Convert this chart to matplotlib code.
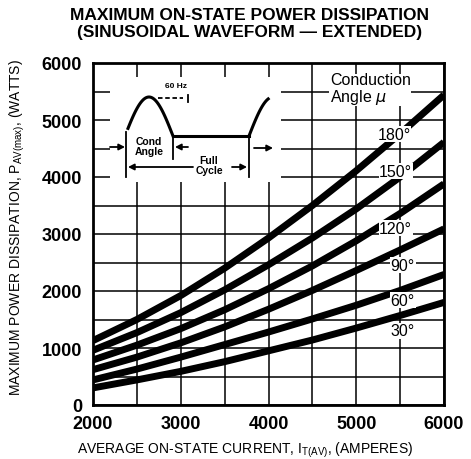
import numpy as np
import matplotlib
matplotlib.use("Agg")
import matplotlib.pyplot as plt
from matplotlib.patches import Rectangle

plt.rcParams['font.family'] = ['Liberation Sans', 'DejaVu Sans']
plt.rcParams['mathtext.default'] = 'regular'

# ---- data ----
current = [2000, 2500, 3000, 3500, 4000, 4500, 5000, 5500, 6000]
p180 = [1130, 1500, 1920, 2400, 2930, 3500, 4110, 4760, 5440]
p150 = [960, 1270, 1620, 2020, 2460, 2930, 3440, 4000, 4610]
p120 = [790, 1050, 1340, 1670, 2040, 2440, 2880, 3360, 3880]
p90 = [620, 840, 1090, 1370, 1680, 2010, 2360, 2720, 3090]
p60 = [440, 630, 840, 1060, 1280, 1510, 1750, 2010, 2290]
p30 = [300, 440, 590, 760, 950, 1140, 1350, 1570, 1800]
series = [p180, p150, p120, p90, p60, p30]
angle_labels = ["180°", "150°", "120°", "90°", "60°", "30°"]
label_x = [5430, 5450, 5450, 5530, 5530, 5530]
label_y = [4750, 4100, 3100, 2450, 1840, 1300]
xticks = [2000, 3000, 4000, 5000, 6000]
yticks = [0, 1000, 2000, 3000, 4000, 5000, 6000]

W, H = 471, 460
fig = plt.figure(figsize=(W / 100, H / 100), dpi=100)
L, R, T, B = 93, 444, 64, 406
ax = fig.add_axes([L / W, (H - B) / H, (R - L) / W, (B - T) / H])

ax.set_xlim(2000, 6000)
ax.set_ylim(0, 6000)
ax.set_xticks(xticks)
ax.set_yticks(yticks)
ax.set_xticks(np.arange(2000, 6001, 500), minor=True)
ax.set_yticks(np.arange(0, 6001, 500), minor=True)
ax.grid(True, which='both', color='black', linewidth=1.1, zorder=1)
ax.set_axisbelow(True)
ax.tick_params(which='both', length=0)
ax.tick_params(axis='y', pad=8, labelsize=13)
ax.tick_params(axis='x', pad=7, labelsize=13)
for lab in ax.get_xticklabels() + ax.get_yticklabels():
    lab.set_fontweight('bold')
for s in ax.spines.values():
    s.set_linewidth(2.0)
    s.set_zorder(5)

for vals in series:
    ax.plot(current, vals, color='black', linewidth=5, solid_capstyle='butt', zorder=3)

for lx, ly, t in zip(label_x, label_y, angle_labels):
    ax.text(lx, ly, t, fontsize=11.5, ha='center', va='center', zorder=4,
            bbox=dict(facecolor='white', edgecolor='none', pad=0.5))

ax.text(4700, 5545, "Conduction\nAngle $\\mathit{\\mu}$", fontsize=11.5, ha='left',
        va='center', linespacing=0.95, zorder=4,
        bbox=dict(facecolor='white', edgecolor='none', pad=0.5))

# ---- inset waveform sketch (axes-fraction coordinates) ----
def fx(px):
    return (px - L) / (R - L)

def fy(py):
    return (B - py) / (B - T)

tr = ax.transAxes
ax.add_patch(Rectangle((fx(110), fy(183)), fx(281) - fx(110), fy(78) - fy(183),
                       transform=tr, facecolor='white', edgecolor='none', zorder=2))
lw = 1.3
ph = np.linspace(0.0625 * np.pi, np.pi, 60)
xs = 128 + (ph - 0.0625 * np.pi) / (0.9375 * np.pi) * 45
ys = 137 - 39 * np.sin(ph)
ax.plot(fx(xs), fy(ys), transform=tr, color='black', lw=2.2, zorder=3)
ax.plot([fx(173), fx(249)], [fy(137), fy(137)], transform=tr, color='black', lw=2.2, zorder=3)
ph2 = np.linspace(0, 0.4 * np.pi, 30)
xs2 = 249 + ph2 / (0.9375 * np.pi) * 45
ys2 = 137 - 39 * np.sin(ph2)
ax.plot(fx(xs2), fy(ys2), transform=tr, color='black', lw=2.2, zorder=3)

ax.text(fx(176), fy(86), "60 Hz", transform=tr, fontsize=6, fontweight='bold',
        ha='center', va='center', zorder=4)
ax.plot([fx(158), fx(183)], [fy(99), fy(99)], transform=tr, color='black', lw=1.3,
        linestyle=(0, (2.5, 1.5)), zorder=3)
ax.plot([fx(188), fx(188)], [fy(96), fy(103)], transform=tr, color='black', lw=1.3, zorder=3)

ax.text(fx(149), fy(147), "Cond\nAngle", transform=tr, fontsize=7.5, fontweight='bold',
        ha='center', va='center', linespacing=0.95, zorder=4)
ax.text(fx(209), fy(166), "Full\nCycle", transform=tr, fontsize=7.5, fontweight='bold',
        ha='center', va='center', linespacing=0.95, zorder=4)

ax.plot([fx(126), fx(126)], [fy(133), fy(178)], transform=tr, color='black', lw=lw, zorder=3)
ax.plot([fx(173), fx(173)], [fy(137), fy(160)], transform=tr, color='black', lw=lw, zorder=3)
ax.plot([fx(249), fx(249)], [fy(137), fy(178)], transform=tr, color='black', lw=lw, zorder=3)

arr = dict(arrowstyle='-|>,head_length=0.35,head_width=0.18', color='black', lw=lw,
           shrinkA=0, shrinkB=0)
def arrow(x0, y0, x1, y1):
    ax.annotate("", xy=(fx(x1), fy(y1)), xytext=(fx(x0), fy(y0)),
                xycoords=tr, textcoords=tr, arrowprops=arr, zorder=4)

arrow(110, 148, 125, 148)
arrow(188, 148, 175, 148)
arrow(193, 168, 128, 168)
arrow(232, 168, 247, 168)
arrow(254, 149, 273, 149)

# ---- titles and axis labels ----
fig.text(250 / W, 1 - 15 / H, "MAXIMUM ON-STATE POWER DISSIPATION", fontsize=12.5,
         fontweight='bold', ha='center', va='center')
fig.text(250 / W, 1 - 32 / H, "(SINUSOIDAL WAVEFORM — EXTENDED)", fontsize=12.5,
         fontweight='bold', ha='center', va='center')
fig.text(245 / W, 1 - 454 / H, "AVERAGE ON-STATE CURRENT, I$_{T(AV)}$, (AMPERES)",
         fontsize=10, ha='center', va='baseline')
fig.text(17 / W, 1 - 227 / H, "MAXIMUM POWER DISSIPATION, P$_{AV(max)}$, (WATTS)",
         fontsize=10, ha='center', va='center', rotation=90)

fig.savefig("out.png", dpi=100, facecolor='white')
